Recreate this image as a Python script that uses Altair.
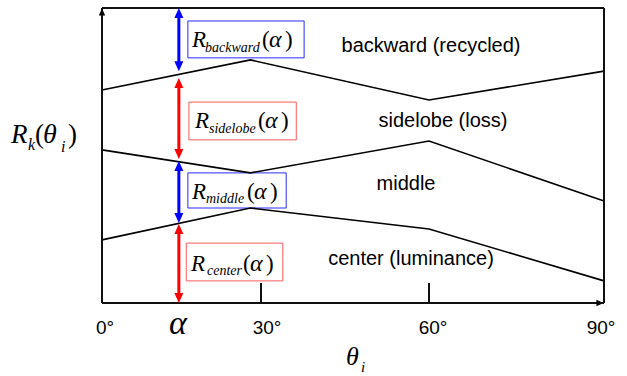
import altair as alt
import pandas as pd

# ---------------- data ----------------
theta_break = [0, 28, 60, 90]                       # incidence angle breakpoints (deg)
upper_sidelobe = [0.722, 0.824, 0.688, 0.786]        # center+middle+sidelobe
upper_middle = [0.519, 0.441, 0.549, 0.346]          # center+middle
upper_center = [0.214, 0.322, 0.251, 0.075]          # center

alpha_deg = 14.5
arrow_top = [1.0, 0.763, 0.481, 0.268]
arrow_bottom = [0.786, 0.488, 0.271, 0.0]
arrow_colors = ["#0000ff", "#ff0000", "#0000ff", "#ff0000"]

box_x0 = [16.2, 16.4, 16.2, 15.9]
box_x1 = [37.7, 36.3, 34.5, 33.9]
box_top = [0.956, 0.681, 0.441, 0.203]
box_bottom = [0.831, 0.553, 0.322, 0.075]
box_colors = ["#2a2aff", "#ff5a5a", "#2a2aff", "#ff5a5a"]

components = ["backward", "sidelobe", "middle", "center"]
region_labels = ["backward (recycled)", "sidelobe (loss)", "middle", "center (luminance)"]
tick_values = [30, 60]
tick_labels = ["0°", "30°", "60°", "90°"]

# ---------------- scales ----------------
XS = alt.Scale(domain=[0, 30, 60, 90], range=[102, 261, 429, 604], nice=False, zero=False)
YS = alt.Scale(domain=[0, 1], range=[303, 8], nice=False, zero=False)

def X(f):
    return alt.X(f, type="quantitative", scale=XS, axis=None)

def Y(f):
    return alt.Y(f, type="quantitative", scale=YS, axis=None)

# ---------------- tables ----------------
lines_df = pd.DataFrame(
    [{"s": name, "x": t, "y": v}
     for name, vals in [("a", upper_sidelobe), ("b", upper_middle), ("c", upper_center)]
     for t, v in zip(theta_break, vals)]
)

frame_df = pd.DataFrame([
    {"x": 0, "x2": 0, "y": 0, "y2": 1},      # y axis
    {"x": 0, "x2": 90, "y": 0, "y2": 0},     # x axis
    {"x": 0, "x2": 90, "y": 1, "y2": 1},     # top border
    {"x": 90, "x2": 90, "y": 0, "y2": 1},    # right border
] + [{"x": t, "x2": t, "y": 0, "y2": 0.068} for t in tick_values])

arrows_df = pd.DataFrame({"x": [alpha_deg] * 4, "top": arrow_top, "bot": arrow_bottom, "c": arrow_colors})
boxes_df = pd.DataFrame({"x0": box_x0, "x1": box_x1, "t": box_top, "b": box_bottom, "c": box_colors})

# text pieces (pixel anchors, left aligned, alphabetic baseline)
italic_rows = []
upright_rows = []
box_R_x = [192, 195, 192, 191]
box_sub_x = [205, 209, 206, 207]
box_paren_x = [262, 258, 247, 243]
box_alpha_x = [269, 265, 254, 250]
box_close_x = [285, 281, 270, 266]
box_base = [47, 128, 199, 271]
box_sub_base = [52, 133, 203, 275]
for i, name in enumerate(components):
    italic_rows.append({"t": "R", "px": box_R_x[i], "py": box_base[i], "sz": 23})
    italic_rows.append({"t": name, "px": box_sub_x[i], "py": box_sub_base[i], "sz": 14})
    italic_rows.append({"t": "α", "px": box_alpha_x[i], "py": box_base[i], "sz": 24})
    upright_rows.append({"t": "(", "px": box_paren_x[i], "py": box_base[i], "sz": 23})
    upright_rows.append({"t": ")", "px": box_close_x[i], "py": box_base[i], "sz": 23})

# y-axis title R_k(theta_i)
italic_rows += [
    {"t": "R", "px": 11, "py": 143, "sz": 27},
    {"t": "k", "px": 28, "py": 150, "sz": 16},
    {"t": "θ", "px": 43, "py": 143, "sz": 28},
    {"t": "i", "px": 61, "py": 152, "sz": 16},
    # x-axis title theta_i
    {"t": "θ", "px": 346, "py": 365, "sz": 26},
    {"t": "i", "px": 361, "py": 372, "sz": 15},
]
upright_rows += [
    {"t": "(", "px": 35, "py": 143, "sz": 27},
    {"t": ")", "px": 68, "py": 143, "sz": 27},
]
italic_df = pd.DataFrame(italic_rows)
upright_df = pd.DataFrame(upright_rows)

sans_df = pd.DataFrame({
    "t": region_labels + tick_labels,
    "px": [431, 443, 406, 411] + [105, 267, 433, 601],
    "py": [52, 127, 190, 265] + [334, 334, 334, 334],
    "sz": [20, 20, 20, 20] + [19, 19, 19, 19],
})
alpha_df = pd.DataFrame({"t": ["α"], "px": [178], "py": [334], "sz": [34]})

# ---------------- layers ----------------
boxes = alt.Chart(boxes_df).mark_rect(fill="white", strokeWidth=1).encode(
    x=X("x0"), x2="x1", y=Y("t"), y2="b", stroke=alt.Stroke("c:N", scale=None)
)

frame = alt.Chart(frame_df).mark_rule(color="#111111", strokeWidth=2).encode(
    x=X("x"), x2="x2", y=Y("y"), y2="y2"
)

lines = alt.Chart(lines_df).mark_line(color="#000000", strokeWidth=1.6).encode(
    x=X("x"), y=Y("y"), detail="s:N"
)

axis_up = alt.Chart(pd.DataFrame({"x": [0], "y": [1]})).mark_point(
    shape="M0,-1L0.9,1L-0.9,1Z", filled=True, size=50, opacity=1, color="#000000", yOffset=4
).encode(x=X("x"), y=Y("y"))

axis_right = alt.Chart(pd.DataFrame({"x": [90], "y": [0]})).mark_point(
    shape="M1,0L-1,0.9L-1,-0.9Z", filled=True, size=50, opacity=1, color="#000000", xOffset=-4
).encode(x=X("x"), y=Y("y"))

shafts = alt.Chart(arrows_df).mark_rule(strokeWidth=3, yOffset=6, y2Offset=-6).encode(
    x=X("x"), y=Y("top"), y2="bot", color=alt.Color("c:N", scale=None)
)
heads_up = alt.Chart(arrows_df).mark_point(
    shape="M0,-1L0.9,1L-0.9,1Z", filled=True, size=100, opacity=1, yOffset=5
).encode(x=X("x"), y=Y("top"), color=alt.Color("c:N", scale=None))
heads_down = alt.Chart(arrows_df).mark_point(
    shape="M0,1L0.9,-1L-0.9,-1Z", filled=True, size=100, opacity=1, yOffset=-5
).encode(x=X("x"), y=Y("bot"), color=alt.Color("c:N", scale=None))


def text_layer(df, font, style, align):
    return alt.Chart(df).mark_text(
        font=font, fontStyle=style, align=align, baseline="alphabetic", color="#000000"
    ).encode(
        x=alt.X("px:Q", scale=None, axis=None),
        y=alt.Y("py:Q", scale=None, axis=None),
        text="t:N",
        size=alt.Size("sz:Q", scale=None, legend=None),
    )

t_italic = text_layer(italic_df, "Liberation Serif", "italic", "left")
t_upright = text_layer(upright_df, "Liberation Serif", "normal", "left")
t_sans = text_layer(sans_df, "Liberation Sans", "normal", "center")
t_alpha = text_layer(alpha_df, "Liberation Serif", "italic", "center")

chart = alt.layer(
    boxes, lines, frame, axis_up, axis_right, shafts, heads_up, heads_down,
    t_italic, t_upright, t_sans, t_alpha,
).resolve_scale(
    x="independent", y="independent", color="independent", stroke="independent", size="independent"
).properties(
    width=627, height=376, autosize="none", padding=0, background="white"
).configure_view(strokeWidth=0)

chart.save("out.html", embed_options={"renderer": "svg", "actions": False})
